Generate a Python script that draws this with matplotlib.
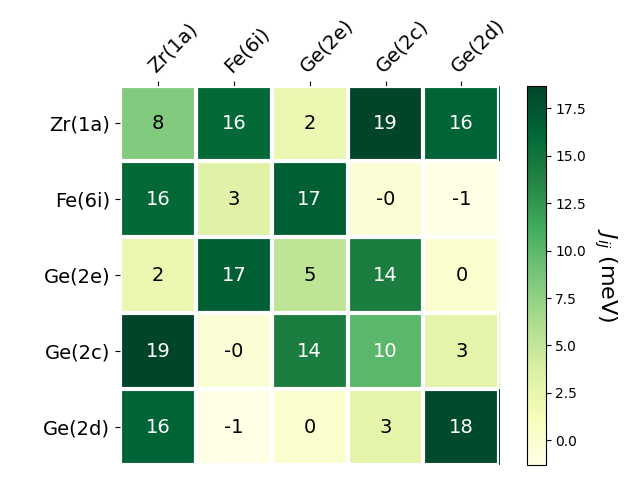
import numpy as np
import matplotlib
matplotlib.use("Agg")
import matplotlib.pyplot as plt

# sites and exchange values (meV)
sites = ["Zr(1a)", "Fe(6i)", "Ge(2e)", "Ge(2c)", "Ge(2d)"]
row_zr = [8.2, 16.0, 2.1, 18.7, 16.3]
row_fe = [16.0, 3.2, 16.8, -0.3, -1.3]
row_ge2e = [2.1, 16.8, 5.2, 14.2, 0.1]
row_ge2c = [18.7, -0.3, 14.2, 10.0, 2.7]
row_ge2d = [16.3, -1.3, 0.1, 2.7, 18.2]

data = np.array([row_zr, row_fe, row_ge2e, row_ge2c, row_ge2d])

fig, ax = plt.subplots(figsize=(6.4, 4.8), dpi=100)
im = ax.imshow(data, cmap="YlGn")

cbar = ax.figure.colorbar(im, ax=ax)
cbar.ax.set_ylabel(r"$J_{ij}$ (meV)", rotation=-90, va="bottom", fontsize=16)

ax.set_xticks(np.arange(len(sites)))
ax.set_yticks(np.arange(len(sites)))
ax.set_xticklabels(sites, fontsize=14)
ax.set_yticklabels(sites, fontsize=14)
ax.tick_params(top=True, bottom=False, labeltop=True, labelbottom=False)
plt.setp(ax.get_xticklabels(), rotation=45, ha="left", rotation_mode="anchor")

ax.spines[:].set_visible(False)
ax.set_xticks(np.arange(data.shape[1] + 1) - .5, minor=True)
ax.set_yticks(np.arange(data.shape[0] + 1) - .5, minor=True)
ax.grid(which="minor", color="w", linestyle="-", linewidth=3)
ax.tick_params(which="minor", bottom=False, left=False)

threshold = im.norm(data.max()) / 2.
for i in range(data.shape[0]):
    for j in range(data.shape[1]):
        color = "white" if im.norm(data[i, j]) > threshold else "black"
        ax.text(j, i, f"{data[i, j]:.0f}", ha="center", va="center",
                color=color, fontsize=14)

fig.tight_layout()
plt.savefig("out.png")
